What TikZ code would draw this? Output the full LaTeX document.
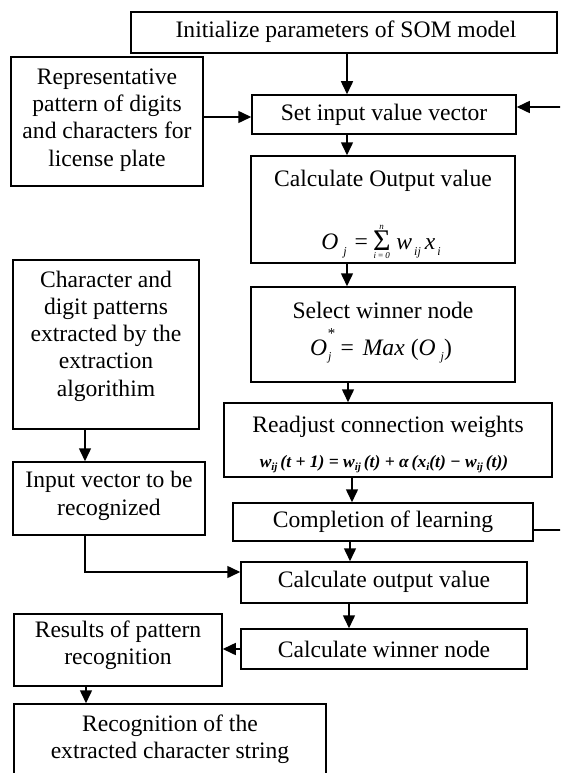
\documentclass[tikz,border=0pt]{standalone}
\usepackage{fontspec}
\setmainfont{Liberation Serif}
\usetikzlibrary{arrows.meta,fit}

% small lowered italic index
\newcommand\sbx[1]{\raisebox{-0.5ex}{\fontsize{12}{12}\selectfont\itshape #1}}
\newcommand\sbs[1]{\raisebox{-0.45ex}{\fontsize{11}{11}\selectfont\itshape #1}}
% summation sign with limits, built from text glyphs
\newcommand\sumlim{\raisebox{-9pt}{\shortstack{{\fontsize{9}{9}\selectfont\itshape n}\\[-1pt]{\fontsize{30}{30}\selectfont Σ}\\[-1pt]{\fontsize{9}{9}\selectfont\itshape i\,=\,0}}}}

\begin{document}
\begin{tikzpicture}[x=1pt,y=-1pt,
  box/.style={draw, line width=1.5pt, inner sep=0pt},
  txt/.style={font=\fontsize{23.6}{27.3}\selectfont, align=center, inner sep=0pt},
  eqn/.style={font=\fontsize{23.6}{26}\selectfont, inner sep=0pt},
  seqn/.style={font=\fontsize{17.5}{20}\selectfont\bfseries\itshape, inner sep=0pt},
  arr/.style={line width=1.5pt, -{Triangle[length=13pt,width=12pt]}},
  ]
\useasboundingbox (0,0) rectangle (560,773);
\clip (0,0) rectangle (560,773);

% training chain
\node[box, fit={(131,12)(557,53)}] (init) {};
\node[txt] (init-t) at (346,32) {Initialize parameters of SOM model};

\node[box, fit={(252,95)(516,134)}] (si) {};
\node[txt] (si-t) at (384,115) {Set input value vector};

\node[box, fit={(251,156)(515,263)}] (co) {};
\node[txt] (co-t) at (383,181) {Calculate Output value};
\node[eqn] (co-e) at (381,242) {\itshape O\hspace{5pt}\sbx{j}\hspace{8pt}\upshape=\hspace{5pt}\sumlim\hspace{6pt}\itshape w\hspace{2pt}\sbx{ij}\hspace{4pt}x\hspace{2pt}\sbx{i}};

\node[box, fit={(251,287)(515,382)}] (sw) {};
\node[txt] (sw-t) at (383,310) {Select winner node};
\node[eqn] (sw-e) at (381,346) {\itshape O\rlap{\raisebox{1.5ex}{\fontsize{15}{15}\selectfont *}}\hspace{1pt}\sbx{j}\hspace{9pt}\upshape=\hspace{9pt}\itshape Max\upshape\hspace{6pt}(\itshape O\hspace{5pt}\sbx{j}\upshape)};

\node[box, fit={(224,403)(552,477)}] (rw) {};
\node[txt] (rw-t) at (388,427) {Readjust connection weights};
\node[seqn] (rw-e) at (384,464) {w\sbs{ij}\,(t + 1) = w\sbs{ij}\,(t) + α\,(x\sbs{i}(t) − w\sbs{ij}\,(t))};

\node[box, fit={(233,503)(533,541)}] (cl) {};
\node[txt] (cl-t) at (383,522) {Completion of learning};

% recognition chain
\node[box, fit={(241,562)(527,603)}] (co2) {};
\node[txt] (co2-t) at (384,582) {Calculate output value};

\node[box, fit={(241,629)(527,669)}] (wn) {};
\node[txt] (wn-t) at (384,649) {Calculate winner node};

% left column
\node[box, fit={(11,57)(203,186)}] (rep) {};
\node[txt] (rep-t) at (107,120) {Representative\\pattern of digits\\and characters for\\license plate};

\node[box, fit={(13,260)(199,429)}] (chr) {};
\node[txt] (chr-t) at (106,336) {Character and\\digit patterns\\extracted by the\\extraction\\algorithim};

\node[box, fit={(13,462)(205,535)}] (iv) {};
\node[txt] (iv-t) at (109,496) {Input vector to be\\recognized};

\node[box, fit={(14,614)(222,686)}] (res) {};
\node[txt] (res-t) at (118,645) {Results of pattern\\recognition};

\node[box, fit={(14,704)(326,776)}] (rec) {};
\node[txt] (rec-t) at (170,739) {Recognition of the\\extracted character string};

% connectors
\draw[arr] (347,0 |- init.south) -- (347,0 |- si.north);
\draw[arr] (rep.east |- 0,117) -- (si.west |- 0,117);
\draw[arr] (347,0 |- si.south) -- (347,0 |- co.north);
\draw[arr] (347,0 |- co.south) -- (347,0 |- sw.north);
\draw[arr] (348,0 |- sw.south) -- (348,0 |- rw.north);
\draw[arr] (352,0 |- rw.south) -- (352,0 |- cl.north);
\draw[arr] (cl.east |- 0,530) -- (563,530) -- (563,107) -- (si.east |- 0,107);
\draw[arr] (350,0 |- cl.south) -- (350,0 |- co2.north);
\draw[arr] (349,0 |- co2.south) -- (349,0 |- wn.north);
\draw[arr] (85,0 |- chr.south) -- (85,0 |- iv.north);
\draw[arr] (85,0 |- iv.south) -- (85,572) -- (co2.west |- 0,572);
\draw[arr] (wn.west |- 0,649) -- (res.east |- 0,649);
\draw[arr] (86,0 |- res.south) -- (86,0 |- rec.north);
\end{tikzpicture}
\end{document}
